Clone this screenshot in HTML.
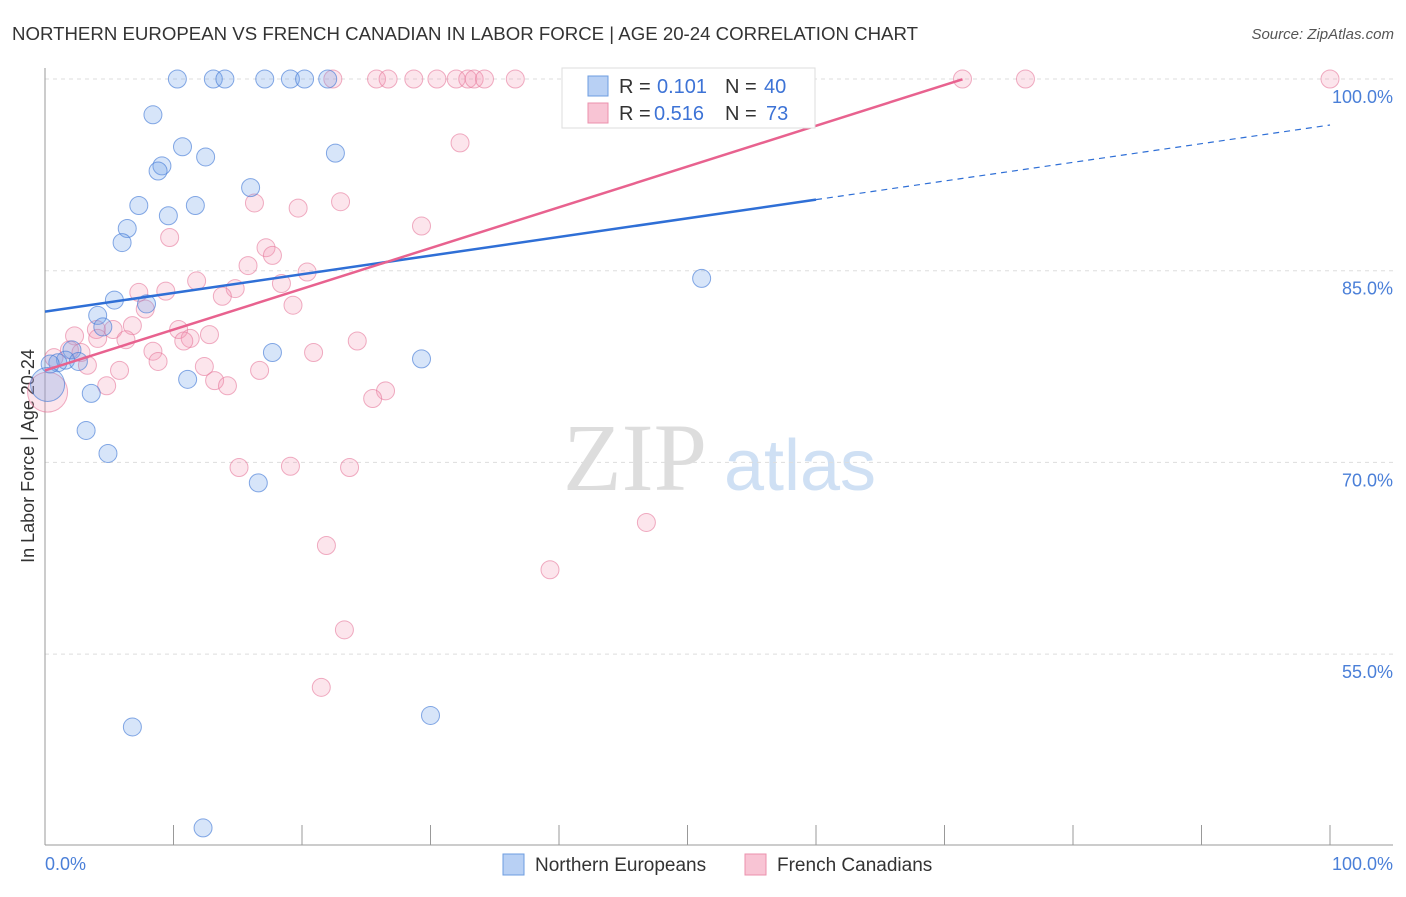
<!DOCTYPE html>
<html><head><meta charset="utf-8"><style>
body{margin:0;background:#fff;font-family:"Liberation Sans",sans-serif}
</style></head><body>
<svg width="1406" height="892" viewBox="0 0 1406 892" xmlns="http://www.w3.org/2000/svg" font-family="Liberation Sans, sans-serif">
<text x="12" y="40" font-size="18" fill="#333" textLength="906" lengthAdjust="spacingAndGlyphs">NORTHERN EUROPEAN VS FRENCH CANADIAN IN LABOR FORCE | AGE 20-24 CORRELATION CHART</text>
<text x="1394" y="39" font-size="15" fill="#555" font-style="italic" text-anchor="end">Source: ZipAtlas.com</text>
<g><text x="635" y="490" font-size="96" fill="#ddd" font-family="Liberation Serif, serif" text-anchor="middle">ZIP</text><text x="800" y="490" font-size="72" fill="#cfe0f4" text-anchor="middle">atlas</text></g>
<g id="grid"></g>
<line x1="45" y1="68" x2="45" y2="845" stroke="#999"/>
<line x1="45" y1="845" x2="1393" y2="845" stroke="#999"/>
<g id="ticks"></g>
<text x="34" y="456" font-size="18" fill="#333" text-anchor="middle" transform="rotate(-90 34 456)">In Labor Force | Age 20-24</text>
<text x="45" y="870" font-size="18" fill="#4a7fd8">0.0%</text>
<text x="1393" y="870" font-size="18" fill="#4a7fd8" text-anchor="end">100.0%</text>
<g id="pts"></g>
<g id="lines"></g>
<g>
<rect x="562" y="68" width="253" height="60" fill="#fff" stroke="#ddd"/>
<rect x="588" y="76" width="20" height="20" fill="#b8d0f4" stroke="#6d9de0"/>
<rect x="588" y="103" width="20" height="20" fill="#f8c4d4" stroke="#eb91ad"/>
<text x="619" y="93" font-size="20" fill="#333">R =</text><text x="657" y="93" font-size="20" fill="#3d73d6">0.101</text>
<text x="725" y="93" font-size="20" fill="#333">N =</text><text x="764" y="93" font-size="20" fill="#3d73d6">40</text>
<text x="619" y="120" font-size="20" fill="#333">R =</text><text x="654" y="120" font-size="20" fill="#3d73d6">0.516</text>
<text x="725" y="120" font-size="20" fill="#333">N =</text><text x="766" y="120" font-size="20" fill="#3d73d6">73</text>
</g>
<g>
<rect x="503" y="854" width="21" height="21" fill="#b8d0f4" stroke="#6d9de0"/>
<text x="535" y="871" font-size="19" fill="#333">Northern Europeans</text>
<rect x="745" y="854" width="21" height="21" fill="#f8c4d4" stroke="#eb91ad"/>
<text x="777" y="871" font-size="19" fill="#333">French Canadians</text>
</g>
</svg>
<script>
const yTicks=[100,85,70,55];
const yTickLabels=["100.0%","85.0%","70.0%","55.0%"];
const xTicks=[0,10,20,30,40,50,60,70,80,90,100];
const blueX=[10.3,13.1,14.0,17.1,19.1,20.2,22.0,8.4,10.7,12.5,9.1,8.8,9.6,11.7,7.3,6.4,6.0,16.0,22.6,51.1,5.4,7.9,4.1,4.5,2.1,1.6,1.0,2.6,0.4,17.7,29.3,11.1,3.6,3.2,4.9,16.6,6.8,30.0,12.3,0.2];
const blueY=[100,100,100,100,100,100,100,97.2,94.7,93.9,93.2,92.8,89.3,90.1,90.1,88.3,87.2,91.5,94.2,84.4,82.7,82.4,81.5,80.6,78.8,78.0,77.8,77.9,77.7,78.6,78.1,76.5,75.4,72.5,70.7,68.4,49.3,50.2,41.4,76.1];
const pinkX=[22.4,25.8,26.7,28.7,30.5,32.0,32.9,33.4,34.2,36.6,41.9,53.0,57.0,71.4,76.3,100,32.3,29.3,23.0,19.7,16.3,9.7,17.2,17.7,15.8,20.4,11.8,18.4,14.8,13.8,9.4,7.3,7.8,19.3,6.8,4.0,5.3,10.4,12.8,2.3,11.3,10.8,4.1,6.3,24.3,1.9,2.8,8.4,20.9,8.8,0.7,3.3,12.4,5.8,16.7,13.2,14.2,4.8,26.5,25.5,15.1,19.1,23.7,46.8,21.9,39.3,23.3,21.5,0.2];
const pinkY=[100,100,100,100,100,100,100,100,100,100,100,100,100,100,100,100,95.0,88.5,90.4,89.9,90.3,87.6,86.8,86.2,85.4,84.9,84.2,84.0,83.6,83.0,83.4,83.3,82.0,82.3,80.7,80.4,80.4,80.4,80.0,79.9,79.7,79.5,79.7,79.6,79.5,78.8,78.6,78.7,78.6,77.9,78.2,77.6,77.5,77.2,77.2,76.4,76.0,76.0,75.6,75.0,69.6,69.7,69.6,65.3,63.5,61.6,56.9,52.4,75.5];
const blueTrend=[81.8,0.146];
const pinkTrend=[77.2,0.319];
const NS="http://www.w3.org/2000/svg";
const X=v=>45+v*12.85;
const Y=v=>79+(100-v)*12.78;
function mk(t,a,p){const e=document.createElementNS(NS,t);for(const k in a)e.setAttribute(k,a[k]);p.appendChild(e);return e;}
const grid=document.getElementById('grid');
yTicks.forEach((t,i)=>{
 const l=mk('line',{x1:45,x2:1393,y1:Y(t),y2:Y(t),stroke:'#ddd','stroke-dasharray':'4,4'},grid);
 
 
 const tx=mk('text',{x:1393,y:Y(t)+24,'font-size':18,fill:'#4a7fd8','text-anchor':'end'},grid);
 tx.textContent=yTickLabels[i];
 
 
});
const tk=document.getElementById('ticks');
xTicks.forEach(t=>{
 const l=mk('line',{x1:X(t),x2:X(t),y1:825,y2:845,stroke:'#999'},tk);
 
 
});
const pts=document.getElementById('pts');
function dots(xs,ys,fill,stroke,name,bigIdx,bigR){
 xs.forEach((x,i)=>{
  const r=i===bigIdx?bigR:9;
  const c=mk('circle',{cx:X(x),cy:Y(ys[i]),r:r,fill:fill,stroke:stroke,'stroke-width':1},pts);
  
  
 });
}
dots(pinkX,pinkY,'rgba(244,150,180,0.25)','rgba(230,120,155,0.6)','french-canadian-point',pinkX.length-1,20);
dots(blueX,blueY,'rgba(110,160,235,0.28)','rgba(70,125,215,0.65)','northern-european-point',blueX.length-1,17);
const lg=document.getElementById('lines');
const b1=mk('line',{x1:X(0),y1:Y(blueTrend[0]),x2:X(60),y2:Y(blueTrend[0]+blueTrend[1]*60),stroke:'#2f6fd6','stroke-width':2.5},lg);


const b2=mk('line',{x1:X(60),y1:Y(blueTrend[0]+blueTrend[1]*60),x2:X(100),y2:Y(blueTrend[0]+blueTrend[1]*100),stroke:'#2f6fd6','stroke-width':1.2,'stroke-dasharray':'6,5'},lg);


const p1=mk('line',{x1:X(0),y1:Y(pinkTrend[0]),x2:X(71.4),y2:Y(pinkTrend[0]+pinkTrend[1]*71.4),stroke:'#e8628f','stroke-width':2.5},lg);


</script>
</body></html>
